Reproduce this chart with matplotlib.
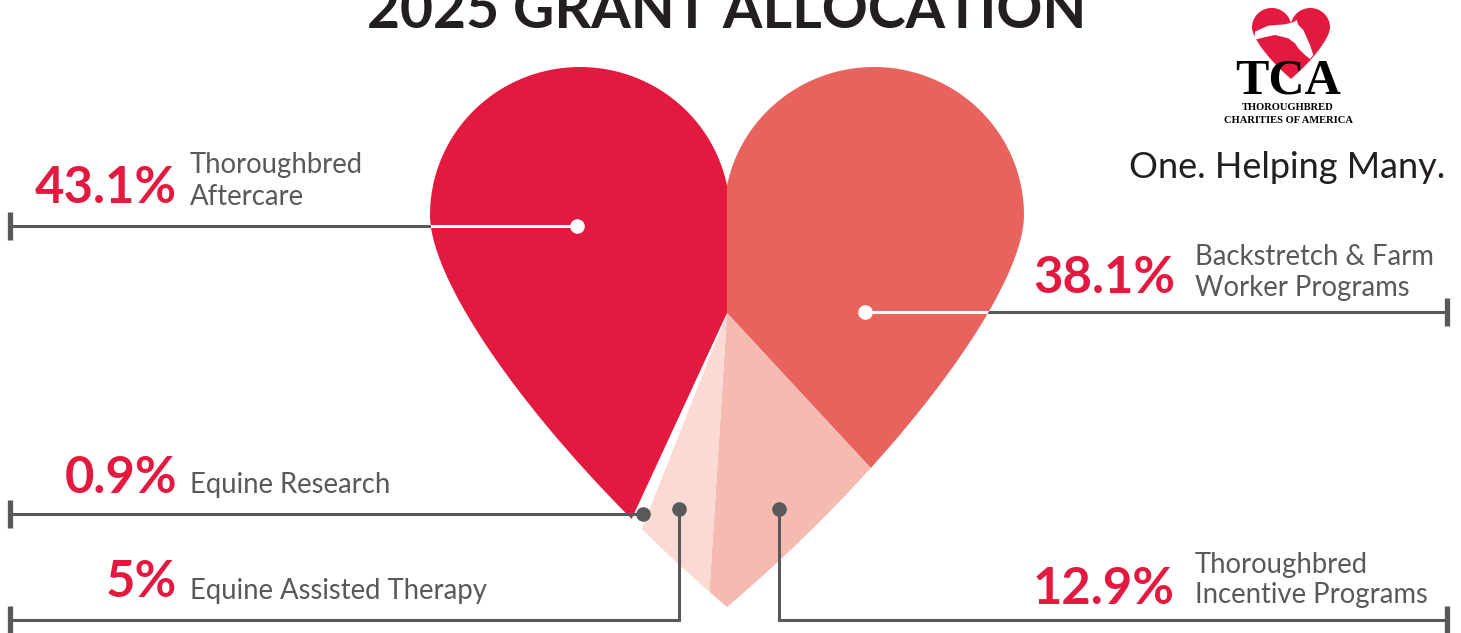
import numpy as np
import matplotlib
matplotlib.use("Agg")
import matplotlib.pyplot as plt
from matplotlib.patches import Polygon

# ---------------- data ----------------
categories = ["Backstretch & Farm\nWorker Programs",
              "Thoroughbred\nIncentive Programs",
              "Equine Assisted Therapy",
              "Equine Research",
              "Thoroughbred\nAftercare"]
shares = [38.1, 12.9, 5.0, 0.9, 43.1]
pct_labels = ["38.1%", "12.9%", "5%", "0.9%", "43.1%"]
colors = ["#E9635E", "#F5BAB0", "#FADAD3", "#FFFFFF", "#E31940"]
title = "2025 GRANT ALLOCATION"

FONT = "Lato"
RED = "#E31940"
GRAY = "#58595B"
DARK = "#231F20"

W, H = 1461, 633
fig = plt.figure(figsize=(W / 100, H / 100), dpi=100)
ax = fig.add_axes([0, 0, 1, 1])
ax.set_xlim(0, W)
ax.set_ylim(H, 0)
ax.axis("off")


def cubic(p0, p1, p2, p3, n=80):
    t = np.linspace(0, 1, n)[:, None]
    p0, p1, p2, p3 = map(np.asarray, (p0, p1, p2, p3))
    return ((1 - t) ** 3) * p0 + 3 * ((1 - t) ** 2) * t * p1 + 3 * (1 - t) * t ** 2 * p2 + t ** 3 * p3


def heart_points():
    rx, ry, cyl = 150.0, 148.0, 215.0
    phc = np.degrees(np.arccos((727 - 874) / rx))
    ph = np.radians(np.linspace(phc, 0, 80))
    right_arc = np.c_[874 + rx * np.cos(ph), cyl - ry * np.sin(ph)]
    right_low = cubic((1024, 215), (1024, 290), (900, 460), (727, 607))
    left_low = cubic((727, 607), (554, 460), (430, 290), (430, 215))
    ph2 = np.radians(np.linspace(180, 180 - phc, 80))
    left_arc = np.c_[580 + rx * np.cos(ph2), cyl - ry * np.sin(ph2)]
    return np.vstack([right_arc, right_low, left_low, left_arc])


hp = heart_points()
heart = Polygon(hp, closed=True, transform=ax.transData, fill=False, lw=0)
ax.add_patch(heart)

# ---------------- gray callout lines (under heart) ----------------
LW = 2.2
ax.plot([9, 577], [226, 226], color=GRAY, lw=LW, zorder=1, solid_capstyle="butt")
ax.plot([865, 1447], [312, 312], color=GRAY, lw=LW, zorder=1, solid_capstyle="butt")

# ---------------- pie clipped by heart ----------------
wedges, _ = ax.pie(shares, colors=colors, startangle=-90, counterclock=True,
                   center=(727, 313), radius=520, frame=True,
                   wedgeprops=dict(linewidth=0))
for w in wedges:
    w.set_clip_on(True)
    w.set_clip_path(heart)
    w.set_zorder(2)
ax.set_xlim(0, W)
ax.set_ylim(H, 0)
ax.set_aspect("auto")
ax.axis("off")

# white callout lines inside heart
for xs, y in (([9, 577], 226), ([865, 1447], 312)):
    ln, = ax.plot(xs, [y, y], color="white", lw=LW, zorder=3, solid_capstyle="butt")
    ln.set_clip_path(heart)
ax.plot([577], [226], "o", color="white", ms=9.5, zorder=4)
ax.plot([865], [312], "o", color="white", ms=9.5, zorder=4)

# gray callouts on top
ax.plot([9, 643], [514, 514], color=GRAY, lw=LW, zorder=5, solid_capstyle="butt")
ax.plot([643], [514], "o", color=GRAY, ms=9.5, zorder=6)
ax.plot([679, 679, 9], [509, 620, 620], color=GRAY, lw=LW, zorder=5, solid_joinstyle="miter")
ax.plot([679], [509], "o", color=GRAY, ms=9.5, zorder=6)
ax.plot([779, 779, 1447], [509, 620, 620], color=GRAY, lw=LW, zorder=5, solid_joinstyle="miter")
ax.plot([779], [509], "o", color=GRAY, ms=9.5, zorder=6)
# end ticks
for x, y in ((10, 226), (10, 514), (10, 620), (1447, 312), (1447, 620)):
    ax.plot([x, x], [y - 14, y + 14], color=GRAY, lw=3.8, zorder=5, solid_capstyle="butt")

# ---------------- labels ----------------
PCT_FS = 36.5
DESC_FS = 19.8


def label(pct, desc, px, pb, dx, dbs):
    ax.text(px, pb, pct, ha="right", va="baseline", fontsize=PCT_FS, color=RED,
            fontweight="bold", family=FONT, zorder=7)
    for line, b in zip(desc.split("\n"), dbs):
        ax.text(dx, b, line, ha="left", va="baseline", fontsize=DESC_FS, color=GRAY,
                family=FONT, zorder=7)


label(pct_labels[4], categories[4], 177, 203, 190, (173, 205))
label(pct_labels[3], categories[3], 177, 493, 190, (493,))
label(pct_labels[2], categories[2], 177, 597, 190, (599,))
label(pct_labels[0], categories[0], 1175, 293, 1195, (265, 296))
label(pct_labels[1], categories[1], 1175, 604, 1195, (573, 603))

# ---------------- title ----------------
ax.text(727, 28, title, ha="center", va="baseline", fontsize=41, fontweight="bold",
        color=DARK, family=FONT, zorder=7)

# ---------------- logo ----------------
s = 78 / 594
logo = (hp - np.array([727, 67])) * s + np.array([1291, 8])
ax.add_patch(Polygon(logo, closed=True, facecolor=RED, edgecolor="none", zorder=7))
horse = [(1255, 31.7), (1268, 25.7), (1285, 24.3), (1293.3, 22.3), (1296.7, 20),
         (1298.3, 25), (1303.3, 30), (1310, 45), (1313.3, 55), (1310, 59),
         (1305, 55), (1298.3, 48.3), (1295, 43.3), (1288.3, 38.3), (1275, 35),
         (1260, 38.3), (1254.3, 40)]
ax.add_patch(Polygon(horse, closed=True, facecolor="white", edgecolor="none", zorder=7.5))
ax.text(1288, 93, "TCA", ha="center", va="baseline", fontsize=36, fontweight="bold",
        color="black", family="Liberation Serif", zorder=8)
ax.text(1288, 110, "THOROUGHBRED", ha="center", va="baseline", fontsize=7.6, fontweight="bold",
        color="black", family="Liberation Serif", zorder=8)
ax.text(1288, 123, "CHARITIES OF AMERICA", ha="center", va="baseline", fontsize=7.6,
        fontweight="bold", color="black", family="Liberation Serif", zorder=8)
ax.text(1287, 178, "One. Helping Many.", ha="center", va="baseline", fontsize=26,
        color=DARK, family=FONT, zorder=8)

fig.savefig("out.png", dpi=100)
